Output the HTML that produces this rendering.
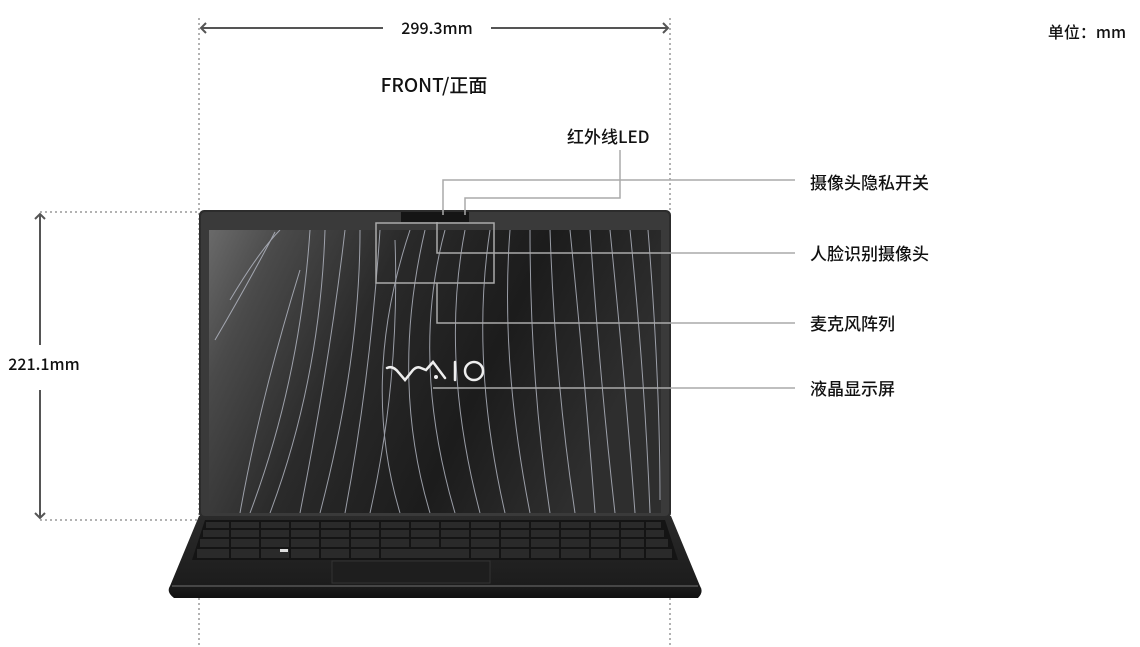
<!DOCTYPE html>
<html><head><meta charset="utf-8"><style>
html,body{margin:0;padding:0;background:#fff;}
body{width:1140px;height:647px;overflow:hidden;position:relative;font-family:"Noto Sans CJK SC","Liberation Sans",sans-serif;}
svg{position:absolute;left:0;top:0;}
.t{font-family:"Noto Sans CJK SC","Liberation Sans",sans-serif;fill:#111;}
</style></head><body>
<svg width="1140" height="647" viewBox="0 0 1140 647" xmlns="http://www.w3.org/2000/svg">
<defs>
<linearGradient id="scr" x1="0" y1="0" x2="1" y2="0.3">
<stop offset="0" stop-color="#6a6a6a"/><stop offset="0.15" stop-color="#4a4a4a"/>
<stop offset="0.4" stop-color="#2a2a2a"/><stop offset="0.7" stop-color="#1c1c1c"/><stop offset="1" stop-color="#2e2e2e"/>
</linearGradient>
<linearGradient id="base" x1="0" y1="0" x2="0" y2="1">
<stop offset="0" stop-color="#2a2a2a"/><stop offset="0.85" stop-color="#1c1c1c"/><stop offset="1" stop-color="#111"/>
</linearGradient>
<clipPath id="sc"><rect x="209" y="230" width="452" height="283"/></clipPath>
</defs>

<g stroke="#999" stroke-width="1.5" stroke-dasharray="2,3" fill="none">
<line x1="199" y1="18" x2="199" y2="647"/>
<line x1="670" y1="18" x2="670" y2="647"/>
<line x1="40" y1="212" x2="199" y2="212"/>
<line x1="40" y1="520" x2="199" y2="520"/>
</g>

<g stroke="#555" stroke-width="2" fill="none">
<line x1="201" y1="28" x2="383" y2="28"/>
<line x1="491" y1="28" x2="668" y2="28"/>
<polyline points="206,23 201,28 206,33"/>
<polyline points="663,23 668,28 663,33"/>
<line x1="40" y1="214" x2="40" y2="345"/>
<line x1="40" y1="390" x2="40" y2="518"/>
<polyline points="35,219 40,214 45,219"/>
<polyline points="35,513 40,518 45,513"/>
</g>
<g font-weight="500">
<text class="t" x="437" y="34" font-size="16" text-anchor="middle">299.3mm</text>
<text class="t" x="44" y="370" font-size="16" text-anchor="middle">221.1mm</text>
<text class="t" x="1087" y="38" font-size="16" text-anchor="middle">单位：mm</text>
<text class="t" x="434" y="92" font-size="19" text-anchor="middle">FRONT/正面</text>
</g>

<rect x="199" y="210" width="472" height="308" rx="5" fill="#2c2c2c"/>
<rect x="201" y="212" width="468" height="304" rx="4" fill="#3a3a3a"/>
<rect x="401" y="212" width="68" height="10" fill="#151515"/>
<rect x="209" y="230" width="452" height="283" fill="url(#scr)"/>
<g clip-path="url(#sc)" stroke="#b8bcc8" stroke-width="1" fill="none" opacity="0.8">
<path d="M230 300 Q260 250 280 230"/><path d="M215 340 Q250 280 275 232"/>
<path d="M250 513 Q300 380 310 230"/><path d="M270 513 Q320 380 325 230"/>
<path d="M300 513 Q330 360 345 230"/><path d="M320 513 Q360 360 360 230"/>
<path d="M345 513 Q370 380 380 230"/><path d="M370 513 Q400 380 395 240"/>
<path d="M400 513 Q360 380 410 230"/><path d="M430 513 Q390 380 425 230"/>
<path d="M455 513 Q410 360 445 230"/><path d="M480 513 Q440 360 465 230"/>
<path d="M505 513 Q470 360 490 230"/><path d="M530 513 Q500 360 510 230"/>
<path d="M550 513 Q530 380 530 230"/><path d="M575 513 Q555 380 550 230"/>
<path d="M595 513 Q585 380 570 230"/><path d="M615 513 Q600 380 590 230"/>
<path d="M635 513 Q625 380 610 230"/><path d="M650 513 Q645 380 630 230"/>
<path d="M660 500 Q660 380 648 230"/><path d="M240 513 Q260 400 300 270"/>
</g>
<g stroke="#eee" stroke-width="2.5" fill="none" stroke-linecap="round">
<path d="M387 368 Q393 365 399 373 L405 380 L413 370 Q417 366 421 368 L426 370 L433 362 L445 378"/>
<line x1="455" y1="362" x2="455" y2="380"/>
<circle cx="474" cy="371" r="9"/>
</g>
<circle cx="436" cy="377" r="2" fill="#eee"/>

<path d="M199 516 L671 516 L700 586 Q704 592 698 598 L174 598 Q166 592 170 586 Z" fill="url(#base)"/>
<path d="M172 586 L698 586" stroke="#555" stroke-width="1.5"/>
<path d="M205 520 L665 520 L678 560 L192 560 Z" fill="#141414"/>
<g fill="#2a2a2a">
<rect x="206" y="522" width="455" height="6"/>
<rect x="203" y="530" width="461" height="7"/>
<rect x="200" y="539" width="468" height="8"/>
<rect x="197" y="549" width="475" height="9"/>
</g>
<g stroke="#141414" stroke-width="2">
<line x1="230" y1="520" x2="230" y2="560"/><line x1="260" y1="520" x2="260" y2="560"/>
<line x1="290" y1="520" x2="290" y2="560"/><line x1="320" y1="520" x2="320" y2="560"/>
<line x1="350" y1="520" x2="350" y2="560"/><line x1="380" y1="520" x2="380" y2="560"/>
<line x1="410" y1="520" x2="410" y2="548"/><line x1="440" y1="520" x2="440" y2="548"/>
<line x1="470" y1="520" x2="470" y2="560"/><line x1="500" y1="520" x2="500" y2="560"/>
<line x1="530" y1="520" x2="530" y2="560"/><line x1="560" y1="520" x2="560" y2="560"/>
<line x1="590" y1="520" x2="590" y2="560"/><line x1="620" y1="520" x2="620" y2="560"/>
<line x1="645" y1="520" x2="645" y2="560"/>
</g>
<rect x="332" y="561" width="158" height="22" fill="#1e1e1e" stroke="#333"/>
<rect x="280" y="549" width="8" height="3" fill="#ddd"/>

<g stroke="#aaa" stroke-width="1.5" fill="none">
<polyline points="443,215 443,180 795,180"/>
<polyline points="620,150 620,198 465,198 465,215"/>
<polyline points="437,222 437,253 795,253"/>
<rect x="376" y="223" width="118" height="60"/>
<polyline points="437,283 437,323 795,323"/>
<polyline points="433,388 795,388"/>
</g>
<g font-size="17" class="t" font-weight="500">
<text x="567" y="143">红外线LED</text>
<text x="810" y="189">摄像头隐私开关</text>
<text x="810" y="260">人脸识别摄像头</text>
<text x="810" y="330">麦克风阵列</text>
<text x="810" y="395">液晶显示屏</text>
</g>
</svg>
</body></html>
